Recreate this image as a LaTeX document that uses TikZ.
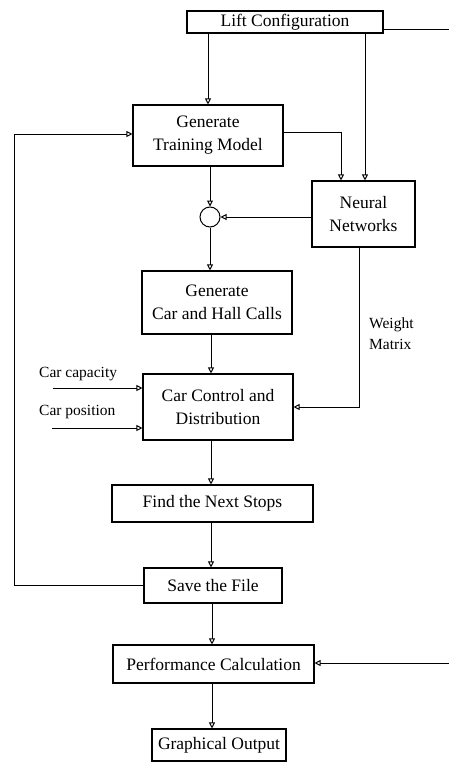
\documentclass[tikz,border=0pt]{standalone}
\usepackage{fontspec}
\setmainfont{Liberation Serif}
\usetikzlibrary{arrows.meta,positioning,calc}
\begin{document}
\begin{tikzpicture}[x=1pt,y=-1pt,
  box/.style={draw,line width=1.1pt,inner sep=0pt,align=center,font=\fontsize{17.5}{23}\selectfont},
  lbl/.style={inner sep=0pt,align=left,font=\fontsize{15.5}{21}\selectfont},
  conn/.style={line width=1pt},
  arr/.style={conn,-{Triangle[open,length=6pt,width=6pt]}}]
\useasboundingbox (0,0) rectangle (449,763);
\node[box,minimum width=196pt,minimum height=22pt] (lift) at (285,22) {Lift Configuration};
\node[box,minimum width=150pt,minimum height=61pt] (gtm) at (208,135.5) {Generate\\Training Model};
\node[box,minimum width=103pt,minimum height=66pt] (nn) at (363.5,214) {Neural\\Networks};
\node[draw,circle,line width=1pt,minimum size=20pt,inner sep=0pt] (c) at (210,217) {};
\node[box,minimum width=150pt,minimum height=63pt] (gchc) at (217,302.5) {Generate\\Car and Hall Calls};
\node[box,minimum width=150pt,minimum height=66pt] (cc) at (218,407) {Car Control and\\Distribution};
\node[box,minimum width=201pt,minimum height=37pt] (fns) at (212.5,503.5) {Find the Next Stops};
\node[box,minimum width=138pt,minimum height=35pt] (sf) at (213,585.5) {Save the File};
\node[box,minimum width=201pt,minimum height=38pt] (pc) at (213.5,664) {Performance Calculation};
\node[box,minimum width=134pt,minimum height=32pt] (go) at (219,745) {Graphical Output};
\node[lbl,anchor=base west] (capl) at (39,377) {Car capacity};
\node[lbl,anchor=base west] (posl) at (39,415) {Car position};
\node[lbl,anchor=north west] (wm) at (369,318) {Weight\\Matrix};
% connectors
\draw[arr] (gtm.north |- lift.south) -- (gtm.north);
\coordinate (nnin) at ([xshift=1.5pt]nn.north);
\draw[arr] (nnin |- lift.south) -- (nnin);
\coordinate (gtmo) at ([yshift=3.5pt]gtm.east);
\coordinate (nnin2) at ([xshift=-22.5pt]nn.north);
\draw[arr] (gtmo) -| (nnin2);
\draw[arr] (c.north |- gtm.south) -- (c.north);
\draw[arr] (nn.west |- c.east) -- (c.east);
\draw[arr] (c.south) -- (c.south |- gchc.north);
\coordinate (ccb) at (211,0);
\draw[arr] (ccb |- gchc.south) -- (ccb |- cc.north);
\coordinate (nnout) at ([xshift=-4.5pt]nn.south);
\draw[arr] (nnout) |- (cc.east);
\coordinate (capin) at (53,388);
\coordinate (posin) at (52,428);
\draw[arr] (capin) -- (capin -| cc.west);
\draw[arr] (posin) -- (posin -| cc.west);
\draw[arr] (ccb |- cc.south) -- (ccb |- fns.north);
\draw[arr] (ccb |- fns.south) -- (ccb |- sf.north);
\coordinate (sfb) at (212,0);
\draw[arr] (sfb |- sf.south) -- (sfb |- pc.north);
\draw[arr] (sfb |- pc.south) -- (sfb |- go.north);
\coordinate (loopx) at (14,0);
\coordinate (gtmin) at ([yshift=1.5pt]gtm.west);
\draw[arr] (sf.west) -- (loopx |- sf.west) -- (loopx |- gtmin) -- (gtmin);
\coordinate (re1) at (449,29);
\draw[conn] (lift.east |- re1) -- (re1);
\coordinate (re2) at (449,663);
\draw[arr] (re2) -- (re2 -| pc.east);
\end{tikzpicture}
\end{document}
